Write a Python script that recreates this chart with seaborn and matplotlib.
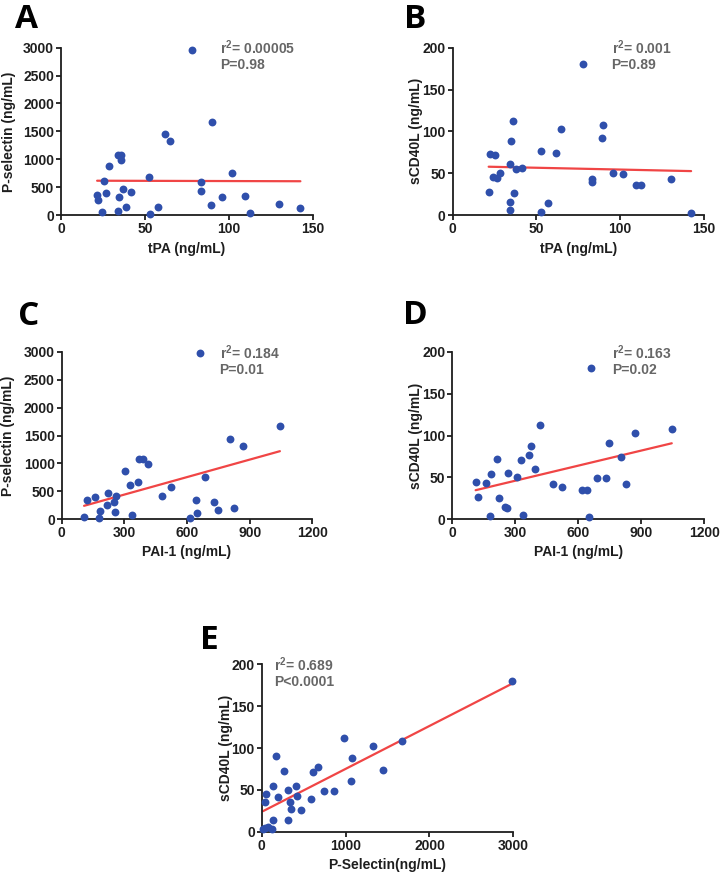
import numpy as np
import matplotlib
matplotlib.use("Agg")
import matplotlib.pyplot as plt
import seaborn as sns

sns.set_style("ticks")
plt.rcParams['font.family'] = ['Liberation Sans', 'DejaVu Sans']
plt.rcParams['mathtext.fontset'] = 'custom'
plt.rcParams['mathtext.bf'] = 'Liberation Sans:bold'
plt.rcParams['mathtext.rm'] = 'Liberation Sans:bold'

# Panel A: tPA vs P-selectin
a_tpa = [78, 90, 62, 65, 34, 35.5, 36, 28.5, 52.5, 102, 25.5, 83.5, 83.5, 37, 41.5,
         27, 21.5, 22, 34.5, 96, 109.5, 89, 130, 142.5, 38.5, 57.5, 34, 24.5, 53, 112.5]
a_psel = [2960, 1670, 1450, 1325, 1075, 1070, 985, 880, 675, 755, 615, 590, 425, 475, 420,
          400, 355, 265, 315, 320, 345, 180, 205, 120, 145, 140, 78, 50, 25, 40]

# Panel B: tPA vs sCD40L
b_tpa = [78, 36, 65, 90, 89, 35, 52.5, 62, 22, 25.5, 34, 38, 41.5, 28.5, 24,
         26.5, 83.5, 83.5, 96, 101.5, 130.5, 109.5, 112.5, 21.5, 36.5, 34.5, 57, 34, 53, 142.5]
b_scd = [180, 112, 103, 108, 92, 88, 77, 74.5, 72.5, 71.5, 61, 55, 56, 50, 46,
         44, 42.5, 40, 50, 49.5, 42.5, 35.5, 35.5, 27, 26, 15, 14, 6, 4, 2]

# Panel C: PAI-1 vs P-selectin
c_pai = [662, 1045, 805, 870, 370, 390, 415, 305, 688, 325, 367, 523, 480, 222, 260,
         158, 120, 215, 252, 642, 731, 749, 827, 257, 184, 650, 335, 107, 179, 616]
c_psel = [2980, 1670, 1445, 1320, 1075, 1075, 985, 870, 750, 610, 665, 580, 420, 470, 420,
          400, 350, 260, 310, 340, 315, 170, 195, 135, 145, 115, 78, 45, 20, 30]

# Panel D: PAI-1 vs sCD40L
d_pai = [660, 1045, 419, 868, 744, 373, 367, 214, 325, 803, 392, 263, 184, 306, 689,
         732, 111, 160, 478, 827, 522, 616, 641, 122, 224, 251, 262, 181, 338, 651]
d_scd = [180, 108, 112, 103, 91, 88, 77, 72, 71, 74, 60, 55, 54, 50, 49,
         49.5, 45, 43.5, 42.5, 42, 39, 35, 35, 27, 25.5, 14.5, 14, 4, 5.5, 2.5]

# Panel E: P-selectin vs sCD40L
e_psel = [2980, 1670, 985, 1325, 175, 1075, 668, 612, 262, 1450, 1070, 140, 413, 50, 314,
          200, 425, 747, 867, 588, 40, 338, 354, 470, 140, 310, 16, 76, 123, 45]
e_scd = [180, 108, 112, 103, 91, 88, 77, 71.5, 72, 74, 60, 55, 55, 45, 50,
         42, 43, 49, 49, 39.5, 35, 35.5, 26.7, 25.5, 14.5, 14.5, 3.5, 6, 2.8, 4]

blue = "#2f4fab"
red = "#f04545"
dark = "#1e1e1e"
gray = "#666666"

fig = plt.figure(figsize=(7.22, 8.74), dpi=100)

panels = [
    # letter, x, y, rect, xmax, xticks, ymax, yticks, xlabel, ylabel, ylab_x, xlab_y, txt, txt_x, txt_y, letter pos
    ("A", a_tpa, a_psel, [0.0845, 0.754, 0.349, 0.1914], 150, [0, 50, 100, 150], 3000,
     range(0, 3001, 500), "tPA (ng/mL)", "P-selectin (ng/mL)", -0.179, -0.16,
     [r"r$^{\mathbf{2}}$= 0.00005", "P=0.98"], 0.63, [1.0, 0.898], (15, 28)),
    ("B", b_tpa, b_scd, [0.627, 0.754, 0.3476, 0.1914], 150, [0, 50, 100, 150], 200,
     range(0, 201, 50), "tPA (ng/mL)", "sCD40L (ng/mL)", -0.118, -0.16,
     [r"r$^{\mathbf{2}}$= 0.001", "P=0.89"], 0.633, [1.0, 0.898], (404, 28)),
    ("C", c_pai, c_psel, [0.0855, 0.4058, 0.347, 0.1918], 1200, [0, 300, 600, 900, 1200], 3000,
     range(0, 3001, 500), "PAI-1 (ng/mL)", "P-selectin (ng/mL)", -0.186, -0.155,
     [r"r$^{\mathbf{2}}$= 0.184", "P=0.01"], 0.63, [0.994, 0.891], (18, 325)),
    ("D", d_pai, d_scd, [0.6265, 0.4058, 0.349, 0.1918], 1200, [0, 300, 600, 900, 1200], 200,
     range(0, 201, 50), "PAI-1 (ng/mL)", "sCD40L (ng/mL)", -0.117, -0.155,
     [r"r$^{\mathbf{2}}$= 0.163", "P=0.02"], 0.633, [0.994, 0.891], (403, 324)),
    ("E", e_psel, e_scd, [0.3625, 0.0484, 0.3485, 0.1915], 3000, [0, 1000, 2000, 3000], 200,
     range(0, 201, 50), "P-Selectin(ng/mL)", "sCD40L (ng/mL)", -0.113, -0.157,
     [r"r$^{\mathbf{2}}$= 0.689", "P<0.0001"], 0.05, [0.996, 0.896], (200, 649)),
]

for (letter, xs, ys, rect, xmax, xt, ymax, yt, xl, yl, ylx, xly, txt, tx, ty, lpos) in panels:
    ax = fig.add_axes(rect)
    sns.regplot(x=np.array(xs, float), y=np.array(ys, float), ax=ax, ci=None, color=blue,
                scatter_kws=dict(s=32, linewidths=0, alpha=1, zorder=3, clip_on=False),
                line_kws=dict(color=red, lw=1.6, zorder=2))
    ax.set_xlim(0, xmax)
    ax.set_ylim(0, ymax)
    ax.set_xticks(xt)
    ax.set_yticks(list(yt))
    sns.despine(ax=ax)
    for s in ["left", "bottom"]:
        ax.spines[s].set_linewidth(1.3)
        ax.spines[s].set_color(dark)
    ax.tick_params(length=3.5, width=1.3, color=dark, pad=1.5, labelsize=10, labelcolor=dark)
    for lab in ax.get_xticklabels() + ax.get_yticklabels():
        lab.set_fontweight("bold")
    ax.set_xlabel(xl, fontsize=10, fontweight="bold", color=dark)
    ax.set_ylabel(yl, fontsize=10, fontweight="bold", color=dark)
    ax.xaxis.set_label_coords(0.5, xly)
    ax.yaxis.set_label_coords(ylx, 0.5)
    for t, yy in zip(txt, ty):
        ax.text(tx, yy, t, transform=ax.transAxes, fontsize=10, fontweight="bold",
                color=gray, va="center", ha="left")
    fig.text(lpos[0] / 722, 1 - lpos[1] / 874, letter, family=["Open Sans", "DejaVu Sans"],
             fontsize=24, fontweight="bold", color="black", va="baseline", ha="left")

fig.savefig("out.png", dpi=100)
